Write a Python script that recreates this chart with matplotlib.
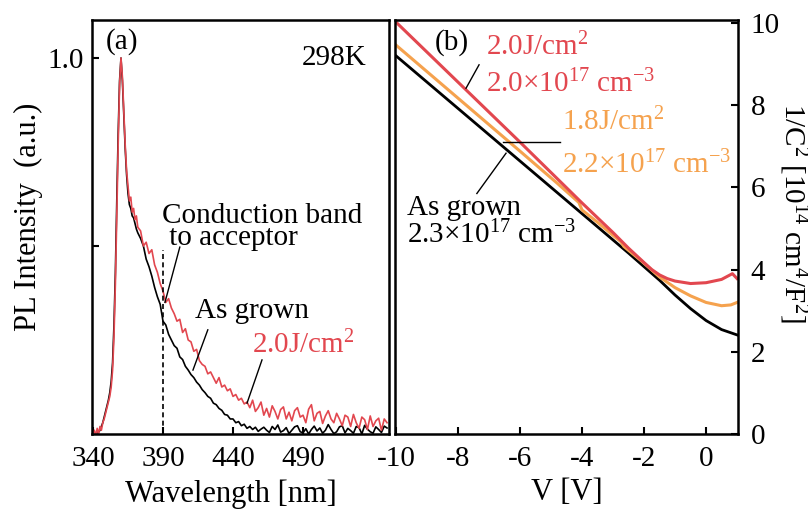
import numpy as np
import matplotlib
matplotlib.use("Agg")
import matplotlib.pyplot as plt

plt.rcParams['font.family'] = ['Liberation Serif', 'DejaVu Serif']
plt.rcParams['mathtext.fontset'] = 'custom'
plt.rcParams['mathtext.rm'] = 'Liberation Serif'
plt.rcParams['mathtext.it'] = 'Liberation Serif:italic'
plt.rcParams['axes.unicode_minus'] = False

# ---------------- (a) PL spectra ----------------
wl_fine = np.arange(340, 373, 1)      # 340..372
wl_coarse = np.arange(374, 551, 2)    # 374..550
wavelength = np.concatenate([wl_fine, wl_coarse])

pl_as_grown_fine = [-0.01, -0.005, 0.0, 0.003, 0.005, 0.01, 0.02, 0.03, 0.045, 0.06,
                    0.075, 0.09, 0.11, 0.14, 0.19, 0.29, 0.43, 0.62, 0.80, 0.94,
                    1.00, 0.94, 0.85, 0.76, 0.69, 0.64, 0.61, 0.60, 0.58, 0.575,
                    0.56, 0.545, 0.535]
pl_as_grown_coarse = [0.52, 0.50, 0.465, 0.445, 0.42, 0.39, 0.365, 0.345, 0.30, 0.29,
                      0.265, 0.25, 0.235, 0.228, 0.205, 0.198, 0.18, 0.17, 0.158, 0.15,
                      0.138, 0.13, 0.118, 0.11, 0.1, 0.095, 0.082, 0.078, 0.068, 0.063,
                      0.052, 0.05, 0.04, 0.04, 0.03, 0.033, 0.022, 0.026, 0.015, 0.02,
                      0.012, 0.018, 0.007, 0.013,
                      0.018, 0.01, 0.004, 0.02, 0.012, 0.024, 0.005, 0.009, 0.017, 0.001,
                      0.01, 0.019, 0.022, 0.006, 0.003, 0.014, 0.0, 0.012, 0.021, 0.008,
                      0.016, 0.002, 0.01, 0.025, 0.012, 0.001, 0.006, 0.019, 0.022, 0.003,
                      0.015, 0.009, 0.002, 0.02, 0.017, 0.0, 0.023, 0.013, 0.006, 0.002,
                      0.019, 0.012, 0.004, 0.021, 0.016]
pl_2J_fine = [0.0, 0.01, -0.005, 0.015, 0.0, 0.02, 0.01, 0.03, 0.04, 0.055,
              0.07, 0.085, 0.10, 0.125, 0.17, 0.26, 0.40, 0.58, 0.77, 0.93,
              1.00, 0.95, 0.86, 0.77, 0.70, 0.66, 0.62, 0.63, 0.59, 0.60,
              0.57, 0.58, 0.55]
pl_2J_coarse = [0.54, 0.50, 0.51, 0.48, 0.49, 0.45, 0.43, 0.40, 0.38, 0.35,
                0.36, 0.335, 0.32, 0.30, 0.305, 0.27, 0.28, 0.25, 0.245, 0.22,
                0.225, 0.195, 0.185, 0.18, 0.16, 0.165, 0.15, 0.135, 0.15, 0.125,
                0.13, 0.115, 0.12, 0.10, 0.105, 0.09, 0.095, 0.08, 0.085, 0.07,
                0.09, 0.06, 0.07, 0.085, 0.05, 0.068, 0.045, 0.075, 0.06, 0.04,
                0.065, 0.072, 0.04, 0.058, 0.035, 0.062, 0.07, 0.045, 0.05, 0.03,
                0.066, 0.078, 0.035, 0.055, 0.06, 0.028, 0.048, 0.062, 0.04, 0.03,
                0.055, 0.04, 0.022, 0.05, 0.045, 0.02, 0.052, 0.03, 0.015, 0.045,
                0.038, 0.012, 0.048, 0.02, 0.035, 0.042, 0.01, 0.04, 0.03]
pl_as_grown = np.array(pl_as_grown_fine + pl_as_grown_coarse)
pl_2J = np.array(pl_2J_fine + pl_2J_coarse)

wl_ticks = [340, 390, 440, 490]
ca_line_nm = 390

# ---------------- (b) 1/C^2 vs V ----------------
v_as_grown = [-10, -8, -6, -4, -3, -2.5, -2, -1.5, -1, -0.5, 0, 0.5, 1.0]
c_as_grown = [9.2, 7.92, 6.64, 5.36, 4.72, 4.40, 4.07, 3.74, 3.38, 3.05, 2.76, 2.54, 2.41]

v_18J = [-10, -8, -6, -4.8, -4.1, -4.0, -3.5, -3.0, -2.75, -2.65, -2.1, -1.5, -1.0, -0.5, 0, 0.5, 0.8, 1.0]
c_18J = [9.46, 8.17, 6.88, 6.10, 5.63, 5.45, 5.15, 4.83, 4.68, 4.56, 4.22, 3.82, 3.56, 3.36, 3.20, 3.12, 3.14, 3.20]

v_2J = [-10, -8, -6, -4, -3, -2.5, -2, -1.75, -1.5, -1.25, -1, -0.5, 0, 0.5, 0.85, 1.0]
c_2J = [10.02, 8.56, 7.10, 5.62, 4.90, 4.52, 4.17, 4.0, 3.87, 3.78, 3.72, 3.66, 3.68, 3.76, 3.90, 3.78]

v_ticks = [-10, -8, -6, -4, -2, 0]
c_ticks = [0, 2, 4, 6, 8, 10]

RED = '#e2474f'
ORANGE = '#f5a24e'
FS = 21

W, H = 808, 513
fig = plt.figure(figsize=(W / 100, H / 100), dpi=100)
axa = fig.add_axes([92 / W, 1 - 434 / H, 297 / W, 414 / H])
axb = fig.add_axes([395 / W, 1 - 434 / H, 343 / W, 414 / H])

for ax in (axa, axb):
    for s in ax.spines.values():
        s.set_linewidth(1.8)
    ax.tick_params(direction='in', length=5, width=1.5, labelsize=FS)

# panel (a)
axa.plot(wavelength, pl_as_grown, color='black', lw=1.2)
axa.plot(wavelength, pl_2J, color=RED, lw=1.2)
axa.plot([ca_line_nm, ca_line_nm], [0, 0.49], color='black', lw=1.2, ls=(0, (3, 2)))
axa.set_xlim(339.3, 551.4)
axa.set_ylim(0, 1.101)
axa.set_xticks(wl_ticks)
axa.set_xticklabels([str(t) for t in wl_ticks])
axa.set_yticks([0.5, 1.0])
axa.set_yticklabels(['', '1.0'])
axa.tick_params(axis='x', pad=9)
axa.tick_params(axis='y', pad=6)
axa.tick_params(top=False, right=False)

axa.text(349.3, 1.043, '(a)', fontsize=FS, ha='left', va='center')
axa.text(535, 1.0, '298K', fontsize=FS, ha='right', va='center')
axa.text(389.0, 0.503, 'Conduction band\n to acceptor', fontsize=FS, ha='left',
         va='baseline', linespacing=0.8)
axa.text(412.9, 0.309, 'As grown', fontsize=FS, ha='left', va='baseline')
axa.text(453.6, 0.215, '2.0J/cm$^{2}$', fontsize=FS, ha='left', va='baseline', color=RED)
axa.plot([402, 391.4], [0.497, 0.35], color='black', lw=1)
axa.plot([422, 411.4], [0.277, 0.17], color='black', lw=1)
axa.plot([460.7, 450], [0.197, 0.082], color='black', lw=1)

fig.text(28 / W, 1 - 217 / H, 'PL Intensity  (a.u.)', fontsize=FS + 1,
         rotation=90, ha='center', va='center')
fig.text(231 / W, 1 - 494 / H, 'Wavelength [nm]', fontsize=FS + 1,
         ha='center', va='center')

# panel (b)
axb.plot(v_as_grown, c_as_grown, color='black', lw=2.0)
axb.plot(v_18J, c_18J, color=ORANGE, lw=2.2)
axb.plot(v_2J, c_2J, color=RED, lw=2.2)
axb.set_xlim(-10.03, 1.03)
axb.set_ylim(0, 10.07)
axb.set_xticks(v_ticks)
axb.set_xticklabels([str(t) for t in v_ticks])
axb.set_yticks(c_ticks)
axb.set_yticklabels([str(t) for t in c_ticks])
axb.yaxis.tick_right()
axb.tick_params(axis='y', left=False, right=True, labelleft=False, labelright=True, pad=9)
axb.tick_params(axis='x', pad=9, top=False)

axb.text(-8.74, 9.51, '(b)', fontsize=FS, ha='left', va='center')
axb.text(-7.1, 9.22, '2.0J/cm$^{2}$', fontsize=FS, ha='left', va='baseline', color=RED)
axb.text(-7.1, 8.32, '2.0\u00d710$^{17}$ cm$^{-3}$', fontsize=FS, ha='left', va='baseline', color=RED)
axb.text(-4.65, 7.39, '1.8J/cm$^{2}$', fontsize=FS, ha='left', va='baseline', color=ORANGE)
axb.text(-4.65, 6.34, '2.2\u00d710$^{17}$ cm$^{-3}$', fontsize=FS, ha='left', va='baseline', color=ORANGE)
axb.text(-9.65, 5.32, 'As grown', fontsize=FS, ha='left', va='baseline')
axb.text(-9.65, 4.63, '2.3\u00d710$^{17}$ cm$^{-3}$', fontsize=FS, ha='left', va='baseline')
axb.plot([-7.32, -7.74], [8.98, 8.41], color='black', lw=1)
axb.plot([-4.71, -6.55], [7.1, 7.1], color='black', lw=1)
axb.plot([-6.45, -7.39], [6.83, 5.85], color='black', lw=1)

fig.text(567 / W, 1 - 493 / H, 'V [V]', fontsize=FS + 1, ha='center', va='center')
fig.text(793 / W, 1 - 213 / H, '1/C$^{2}$ [10$^{14}$ cm$^{4}$/F$^{2}$]', fontsize=FS,
         rotation=270, ha='center', va='center')

fig.savefig('out.png', dpi=100)
